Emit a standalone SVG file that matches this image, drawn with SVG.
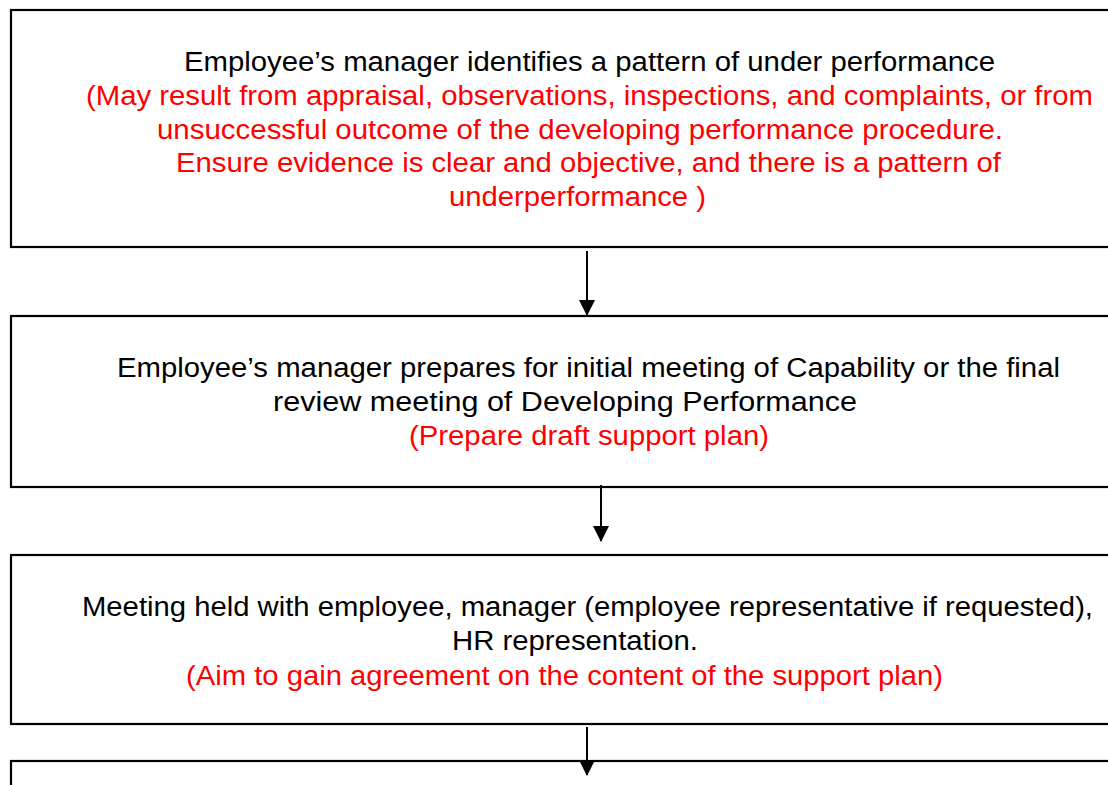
<svg xmlns="http://www.w3.org/2000/svg" width="1108" height="785" viewBox="0 0 1108 785">
  <style>
    .box { fill: #ffffff; stroke: #000000; stroke-width: 2.2; }
    .t { font-family: "Liberation Sans", Arial, sans-serif; font-size: 27px; }
    .k { fill: #000000; }
    .r { fill: #ff0000; }
    .link { stroke: #000000; stroke-width: 2; fill: none; marker-end: url(#arrow); }
  </style>
  <defs>
    <marker id="arrow" markerUnits="userSpaceOnUse" markerWidth="16" markerHeight="16" viewBox="0 0 16 16" refX="15" refY="8" orient="auto">
      <path d="M0,0 L16,8 L0,16 Z" fill="#000000"/>
    </marker>
  </defs>
  <rect width="1108" height="785" fill="#ffffff"/>

  <g id="step1">
    <rect class="box" x="11" y="10" width="1120" height="237"/>
    <text class="t k" x="184" y="71" textLength="811" lengthAdjust="spacingAndGlyphs">Employee’s manager identifies a pattern of under performance</text>
    <text class="t r" x="86" y="105" textLength="1007" lengthAdjust="spacingAndGlyphs">(May result from appraisal, observations, inspections, and complaints, or from</text>
    <text class="t r" x="157" y="139" textLength="846" lengthAdjust="spacingAndGlyphs">unsuccessful outcome of the developing performance procedure.</text>
    <text class="t r" x="176" y="172" textLength="825" lengthAdjust="spacingAndGlyphs">Ensure evidence is clear and objective, and there is a pattern of</text>
    <text class="t r" x="449" y="206" textLength="257" lengthAdjust="spacingAndGlyphs">underperformance )</text>
  </g>

  <g id="step2">
    <rect class="box" x="11" y="316" width="1120" height="171"/>
    <text class="t k" x="117" y="377" textLength="943" lengthAdjust="spacingAndGlyphs">Employee’s manager prepares for initial meeting of Capability or the final</text>
    <text class="t k" x="273" y="411" textLength="584" lengthAdjust="spacingAndGlyphs">review meeting of Developing Performance</text>
    <text class="t r" x="409" y="445" textLength="360" lengthAdjust="spacingAndGlyphs">(Prepare draft support plan)</text>
  </g>

  <g id="step3">
    <rect class="box" x="11" y="555" width="1120" height="169"/>
    <text class="t k" x="82" y="616" textLength="1011" lengthAdjust="spacingAndGlyphs">Meeting held with employee, manager (employee representative if requested),</text>
    <text class="t k" x="452" y="650" textLength="246" lengthAdjust="spacingAndGlyphs">HR representation.</text>
    <text class="t r" x="186" y="685" textLength="757" lengthAdjust="spacingAndGlyphs">(Aim to gain agreement on the content of the support plan)</text>
  </g>

  <g id="step4">
    <rect class="box" x="11" y="761" width="1120" height="60"/>
  </g>

  <g id="connectors">
    <line class="link" x1="587" y1="251" x2="587" y2="315"/>
    <line class="link" x1="601" y1="485" x2="601" y2="541"/>
    <line class="link" x1="587" y1="727" x2="587" y2="775"/>
  </g>
</svg>
